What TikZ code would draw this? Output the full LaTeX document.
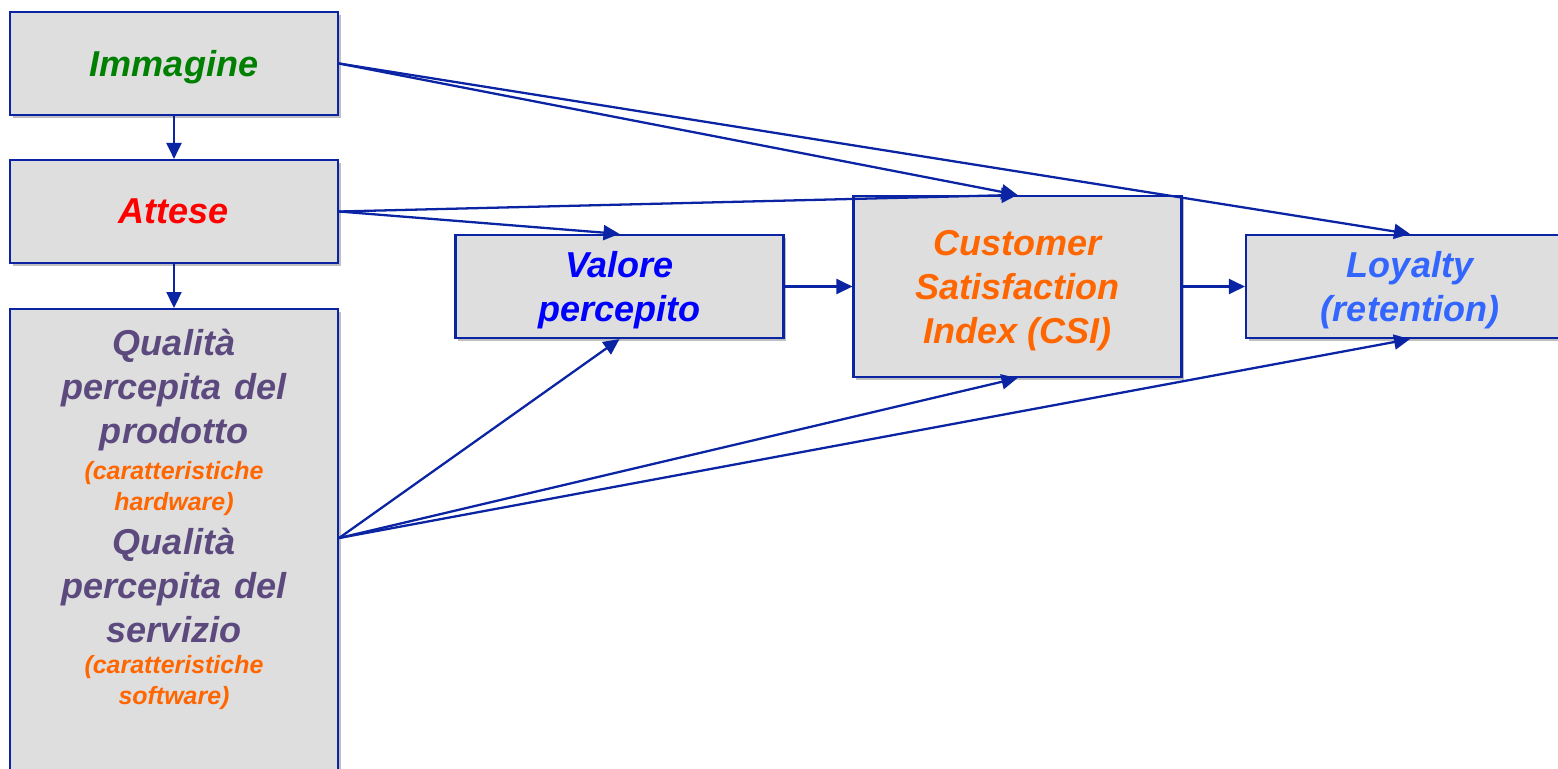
\documentclass[tikz,border=0pt]{standalone}
\usepackage{fontspec}
\setmainfont{Liberation Sans}
\usepackage{tikz}
\usetikzlibrary{positioning,arrows.meta,calc,shadows}
\definecolor{frame}{HTML}{0B24A3}
\definecolor{boxfill}{HTML}{DEDEDE}
\definecolor{imgcol}{HTML}{008000}
\definecolor{expcol}{HTML}{FF0000}
\definecolor{qualcol}{HTML}{5C4A7E}
\definecolor{csicol}{HTML}{FF6600}
\definecolor{valcol}{HTML}{0000FF}
\definecolor{loycol}{HTML}{3366FF}
\newcommand{\bigline}{\fontsize{20.5}{25}\selectfont\spaceskip=0pt\relax}
\newcommand{\smallline}{\fontsize{14.2}{17.6}\selectfont\spaceskip=0pt\relax}
\tikzset{
  factor/.style={rectangle, draw=frame, fill=boxfill, line width=1.25pt,
                 minimum width=6.56cm, minimum height=2.06cm, inner sep=0pt,
                 text depth=0pt, align=center, font=\bfseries\itshape\bigline,
                 drop shadow={shadow xshift=1.5pt, shadow yshift=-1.5pt,
                              fill=black, opacity=0.25}},
  % every causal link between the factors
  link/.style={draw=frame, line width=1.3pt,
               -{Triangle[length=0.32cm,width=0.3cm]}},
}
\begin{document}
\begin{tikzpicture}[x=0.02cm,y=-0.02cm]
\useasboundingbox (0,0) rectangle (1558,768);
\node[factor,text=imgcol] (img) at (174,63.5) {Immagine};
\node[factor,text=expcol] (exp) at (174,211.5) {Attese};
\node[factor,minimum height=10cm,anchor=north] (qual) at (174,308) {};
\node[text width=6cm,align=center,inner sep=0pt,anchor=north,
      font=\bfseries\itshape\bigline] (qualtxt) at (174,329)
  {{\bigline\color{qualcol}Qualità\\percepita del\\prodotto\par}
   \vspace{3pt}
   {\smallline\color{csicol}(caratteristiche\\hardware)\par}
   {\bigline\color{qualcol}Qualità\\percepita del\\servizio\par}
   {\smallline\color{csicol}(caratteristiche\\software)\par}};
\node[factor,text=valcol] (val) at (619.5,286.5) {Valore\\percepito};
\node[factor,text=csicol,minimum height=3.62cm] (csi) at (1017.5,286.5)
  {Customer\\Satisfaction\\Index (CSI)};
\node[factor,text=loycol] (loy) at (1410,286.5) {Loyalty\\(retention)};
\coordinate (qout) at ($(qual.north east)+(0,230)$);
\foreach \a/\b in {img.south/exp.north, exp.south/qual.north,
                   img.east/csi.north, img.east/loy.north,
                   exp.east/csi.north, exp.east/val.north,
                   val.east/csi.west, csi.east/loy.west,
                   qout/val.south, qout/csi.south, qout/loy.south}
  {\draw[link] (\a) -- (\b);}
\end{tikzpicture}
\end{document}
